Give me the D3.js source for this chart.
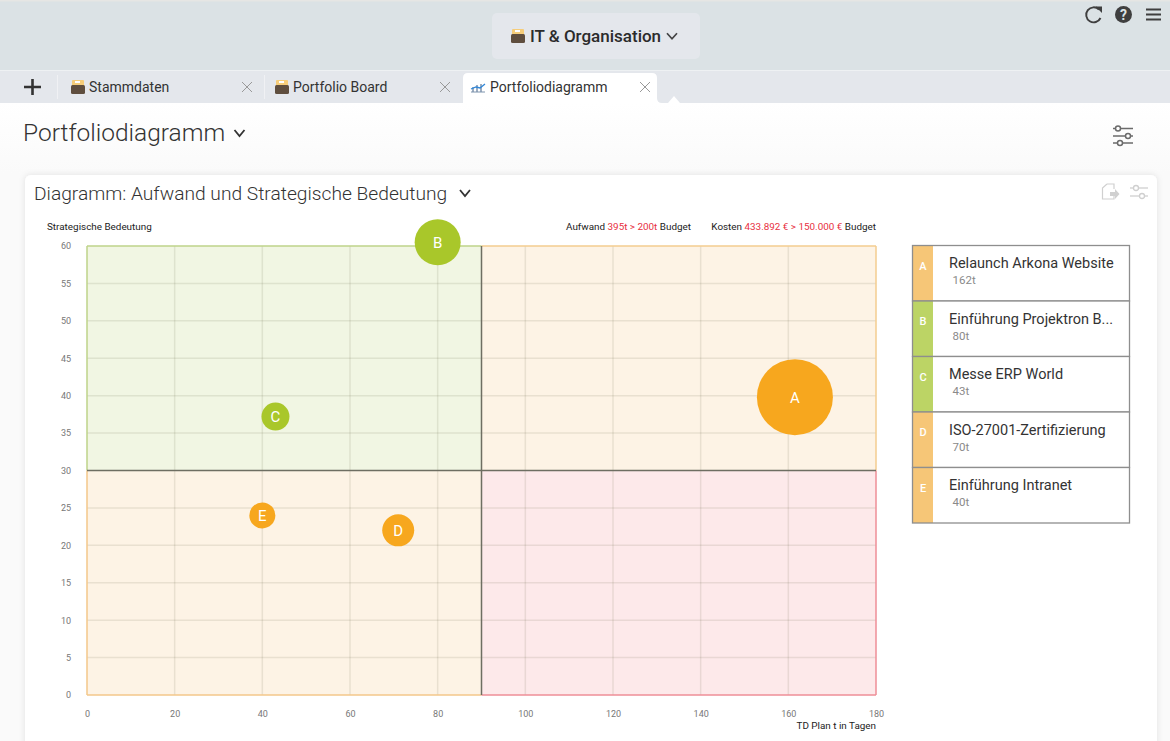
<!DOCTYPE html>
<html>
<head>
<meta charset="utf-8">
<script src="https://cdn.jsdelivr.net/npm/d3@7"></script>
<style>
  html, body { margin: 0; padding: 0; background: #fff; overflow: hidden; }
  svg { display: block; font-family: Roboto, sans-serif; }
</style>
</head>
<body>
<svg id="page" width="1170" height="741"></svg>
<script>
// chart data
const letters = ["A", "B", "C", "D", "E"];
const projects = ["Relaunch Arkona Website", "Einführung Projektron B...", "Messe ERP World", "ISO-27001-Zertifizierung", "Einführung Intranet"];
const effortDays = [161.5, 80, 43, 71, 40];
const effortLabels = ["162t", "80t", "43t", "70t", "40t"];
const importance = [39.8, 60.5, 37.2, 22, 24];
const bubbleSize = [38, 23, 14, 16, 13];
const bubbleColor = ["#f7a71e", "#a9c72a", "#a9c72a", "#f7a71e", "#f7a71e"];
const legendColor = ["#f6c677", "#bcd465", "#bcd465", "#f6c677", "#f6c677"];
const xTicks = [0, 20, 40, 60, 80, 100, 120, 140, 160, 180];
const yTicks = [0, 5, 10, 15, 20, 25, 30, 35, 40, 45, 50, 55, 60];
const tabs = ["Stammdaten", "Portfolio Board", "Portfoliodiagramm"];
const quadrants = [
  { x0: 0, x1: 90, y0: 30, y1: 60, fill: "#f1f6e3", edge: "#bfd48a" },
  { x0: 90, x1: 180, y0: 30, y1: 60, fill: "#fdf3e5", edge: "#f3cd90" },
  { x0: 0, x1: 90, y0: 0, y1: 30, fill: "#fdf3e5", edge: "#f3c88a" },
  { x0: 90, x1: 180, y0: 0, y1: 30, fill: "#fde9ea", edge: "#ee8f98" }
];

const svg = d3.select("#page");
const defs = svg.append("defs");
const shadow = defs.append("filter").attr("id", "soft")
  .attr("x", "-5%").attr("y", "-5%").attr("width", "110%").attr("height", "110%");
shadow.append("feDropShadow").attr("dx", 0).attr("dy", 0)
  .attr("stdDeviation", 3).attr("flood-color", "#000").attr("flood-opacity", 0.1);
const pageFade = defs.append("linearGradient").attr("id", "pagefade")
  .attr("x1", 0).attr("x2", 0).attr("y1", 0).attr("y2", 1);
pageFade.append("stop").attr("offset", "0%").attr("stop-color", "#fff");
pageFade.append("stop").attr("offset", "100%").attr("stop-color", "#fafafa");

function chevron(g, x, y, w, h, color, width) {
  g.append("path")
    .attr("d", `M${x - w / 2},${y - h / 2}L${x},${y + h / 2}L${x + w / 2},${y - h / 2}`)
    .attr("fill", "none").attr("stroke", color).attr("stroke-width", width);
}

function folder(g, x, y) {
  g.append("rect").attr("x", x + 1).attr("y", y).attr("width", 12).attr("height", 7)
    .attr("rx", 1).attr("fill", "#f6cd7a");
  g.append("rect").attr("x", x + 4).attr("y", y + 1).attr("width", 5).attr("height", 2).attr("fill", "#fff");
  g.append("rect").attr("x", x).attr("y", y + 5).attr("width", 14).attr("height", 9)
    .attr("rx", 1.5).attr("fill", "#5f4e3e");
}

function sliders(g, x, y, w, rows, color, width, r) {
  rows.forEach(row => {
    g.append("line").attr("x1", x).attr("x2", x + w).attr("y1", y + row.dy).attr("y2", y + row.dy)
      .attr("stroke", color).attr("stroke-width", width);
    g.append("circle").attr("cx", x + row.at).attr("cy", y + row.dy).attr("r", r)
      .attr("fill", "#fff").attr("stroke", color).attr("stroke-width", width);
  });
}

// header bar
const head = svg.append("g");
head.append("rect").attr("width", 1170).attr("height", 71).attr("fill", "#dbe2e5");
head.append("rect").attr("width", 1170).attr("height", 1.5).attr("fill", "#e6e6e4");
head.append("rect").attr("y", 70).attr("width", 1170).attr("height", 1).attr("fill", "#eef1f3");
head.append("rect").attr("x", 492).attr("y", 13).attr("width", 208).attr("height", 46).attr("rx", 5)
  .attr("fill", "#e4e7ec");
folder(head, 511, 29);
head.append("text").attr("x", 530).attr("y", 42).attr("font-size", 17).attr("font-weight", 500)
  .attr("fill", "#2b2b2b").text("IT & Organisation");
chevron(head, 672, 36, 10, 5.5, "#444", 1.7);

// header icons
head.append("path").attr("d", "M1100.5,18A7.5,7.5 0 1 1 1099,9.5")
  .attr("fill", "none").attr("stroke", "#3f3f3f").attr("stroke-width", 1.9);
head.append("path").attr("d", "M1095.5,6.500L1102,6.500L1102,13Z").attr("fill", "#3f3f3f");
head.append("circle").attr("cx", 1123.5).attr("cy", 14.5).attr("r", 8.5).attr("fill", "#3f3f3f");
head.append("text").attr("x", 1123.5).attr("y", 19.5).attr("text-anchor", "middle")
  .attr("font-size", 14).attr("font-weight", 700).attr("fill", "#dbe2e5").text("?");
head.selectAll("line.menu").data([9.5, 14.5, 19.5]).enter().append("line").attr("class", "menu")
  .attr("x1", 1146).attr("x2", 1161).attr("y1", d => d).attr("y2", d => d)
  .attr("stroke", "#3f3f3f").attr("stroke-width", 2);

// tab strip
const strip = svg.append("g");
strip.append("rect").attr("y", 71).attr("width", 1170).attr("height", 32).attr("fill", "#e4e7ec");
strip.append("path").attr("d", "M24,87H41M32.500,79V95").attr("stroke", "#333").attr("stroke-width", 2.6);
strip.selectAll("line.sep").data([57.5, 264.5]).enter().append("line").attr("class", "sep")
  .attr("x1", d => d).attr("x2", d => d).attr("y1", 75).attr("y2", 99).attr("stroke", "#f0f1f4");
strip.append("path")
  .attr("d", "M463,103V78Q463,73 468,73H652Q657,73 657,78V98Q657,103 662,103Z").attr("fill", "#fff");
strip.append("path").attr("d", "M668,103L674,96L680,103Z").attr("fill", "#fff");
folder(strip, 71, 80);
folder(strip, 275, 80);
const tabX = [89, 293, 490];
const closeX = [247, 445, 645];
tabs.forEach((t, i) => {
  strip.append("text").attr("x", tabX[i]).attr("y", 92).attr("font-size", 14).attr("fill", "#333").text(t);
  const cx = closeX[i];
  strip.append("path").attr("d", `M${cx - 5},${82}L${cx + 5},${92}M${cx + 5},${82}L${cx - 5},${92}`)
    .attr("stroke", "#999").attr("stroke-width", 1);
});
strip.append("path").attr("d", "M471,92H485").attr("stroke", "#7d93ad").attr("stroke-width", 1);
strip.append("path").attr("d", "M473,92V87M477,92V85M481,92V84").attr("stroke", "#7d93ad").attr("stroke-width", 1.5);
strip.append("path").attr("d", "M471,89L476,87L480,88L485,84").attr("fill", "none").attr("stroke", "#2f86d8").attr("stroke-width", 1.3);

// page heading
svg.append("rect").attr("y", 103).attr("width", 1170).attr("height", 70).attr("fill", "url(#pagefade)");
svg.append("rect").attr("y", 173).attr("width", 1170).attr("height", 568).attr("fill", "#fafafa");
svg.append("text").attr("x", 23).attr("y", 141).attr("font-size", 24.5).attr("font-weight", 300)
  .attr("fill", "#333").text("Portfoliodiagramm");
chevron(svg, 239.500, 133, 10, 6, "#333", 1.8);
sliders(svg.append("g"), 1113, 128, 20, [{ dy: 0.5, at: 5 }, { dy: 8, at: 15 }, { dy: 15, at: 7 }], "#6b6b6b", 1.5, 2.5);

// card
svg.append("rect").attr("x", 25).attr("y", 175).attr("width", 1132).attr("height", 580).attr("rx", 6)
  .attr("fill", "#fff").attr("filter", "url(#soft)");
svg.append("text").attr("x", 34).attr("y", 200).attr("font-size", 19.2).attr("font-weight", 300)
  .attr("fill", "#333").text("Diagramm: Aufwand und Strategische Bedeutung");
chevron(svg, 465, 193, 10, 6, "#333", 1.8);
svg.append("path").attr("d", "M1107,184H1114V189M1107,184L1102.500,188V199H1114V196")
  .attr("fill", "none").attr("stroke", "#d0d0d0").attr("stroke-width", 1.2);
svg.append("path").attr("d", "M1110,192H1115V189L1119.500,194L1115,199V196H1110Z").attr("fill", "#d0d0d0");
sliders(svg.append("g"), 1130, 184, 18, [{ dy: 4, at: 6 }, { dy: 12, at: 12 }], "#cfcfcf", 1.3, 2.5);

// plot
const x = d3.scaleLinear().domain([0, 180]).range([87, 876]);
const y = d3.scaleLinear().domain([0, 60]).range([695, 246]);
const plot = svg.append("g");

plot.selectAll("rect.quad").data(quadrants).enter().append("rect").attr("class", "quad")
  .attr("x", d => x(d.x0)).attr("y", d => y(d.y1))
  .attr("width", d => x(d.x1) - x(d.x0)).attr("height", d => y(d.y0) - y(d.y1))
  .attr("fill", d => d.fill);

const innerX = xTicks.filter(t => t > 0 && t < 180 && t !== 90);
const innerY = yTicks.filter(t => t > 0 && t < 60 && t !== 30);
plot.selectAll("line.vgrid").data(innerX).enter().append("line").attr("class", "vgrid")
  .attr("x1", d => x(d)).attr("x2", d => x(d)).attr("y1", y(60)).attr("y2", y(0))
  .attr("stroke", "#5a5a3c").attr("stroke-opacity", 0.12).attr("stroke-width", 1.5);
plot.selectAll("line.hgrid").data(innerY).enter().append("line").attr("class", "hgrid")
  .attr("x1", x(0)).attr("x2", x(180)).attr("y1", d => y(d)).attr("y2", d => y(d))
  .attr("stroke", "#5a5a3c").attr("stroke-opacity", 0.12).attr("stroke-width", 1.5);

// coloured outer edges
plot.selectAll("path.edge").data(quadrants).enter().append("path").attr("class", "edge")
  .attr("d", d => {
    const vx = d.x0 === 0 ? x(0) : x(180);
    const hy = d.y0 === 0 ? y(0) : y(60);
    return `M${vx},${y(d.y1)}V${y(d.y0)}M${x(90)},${hy}H${vx}`;
  })
  .attr("fill", "none").attr("stroke", d => d.edge).attr("stroke-width", 1.5);

// centre cross
plot.append("line").attr("x1", x(90)).attr("x2", x(90)).attr("y1", y(60)).attr("y2", y(0))
  .attr("stroke", "#6e6e62").attr("stroke-width", 1.5);
plot.append("line").attr("x1", x(0)).attr("x2", x(180)).attr("y1", y(30)).attr("y2", y(30))
  .attr("stroke", "#6e6e62").attr("stroke-width", 1.5);

// axes
const xAxis = d3.axisBottom(x).tickValues(xTicks).tickSize(0).tickPadding(16);
const yAxis = d3.axisLeft(y).tickValues(yTicks).tickSize(0).tickPadding(16);
[plot.append("g").attr("transform", `translate(0,${y(0)})`).call(xAxis),
 plot.append("g").attr("transform", `translate(${x(0)},0)`).call(yAxis)].forEach(a => {
  a.select(".domain").remove();
  a.selectAll("text").attr("font-family", "Roboto, sans-serif").attr("font-size", 9).attr("fill", "#777");
});

plot.append("text").attr("x", 47).attr("y", 230).attr("font-size", 9.9).attr("fill", "#222")
  .text("Strategische Bedeutung");
plot.append("text").attr("x", 876).attr("y", 729).attr("text-anchor", "end").attr("font-size", 9.9)
  .attr("fill", "#222").text("TD Plan t in Tagen");

// budget summary
const aufwand = plot.append("text").attr("x", 691).attr("y", 230).attr("text-anchor", "end")
  .attr("font-size", 9.9).attr("fill", "#222");
aufwand.append("tspan").text("Aufwand ");
aufwand.append("tspan").attr("fill", "#e8303f").text("395t > 200t");
aufwand.append("tspan").text(" Budget");
const kosten = plot.append("text").attr("x", 876).attr("y", 230).attr("text-anchor", "end")
  .attr("font-size", 9.9).attr("fill", "#222");
kosten.append("tspan").text("Kosten ");
kosten.append("tspan").attr("fill", "#e8303f").text("433.892 € > 150.000 €");
kosten.append("tspan").text(" Budget");

// bubbles
const bubbles = plot.selectAll("g.bubble").data(letters).enter().append("g").attr("class", "bubble")
  .attr("transform", (d, i) => `translate(${x(effortDays[i])},${y(importance[i])})`);
bubbles.append("circle").attr("r", (d, i) => bubbleSize[i]).attr("fill", (d, i) => bubbleColor[i]);
bubbles.append("text").attr("text-anchor", "middle").attr("dy", "0.36em")
  .attr("font-size", 15).attr("fill", "#fff").text(d => d);

// legend list
const rowY = d3.scaleBand().domain(letters).range([245.500, 523]);
const rows = svg.append("g").selectAll("g").data(letters).enter().append("g")
  .attr("transform", d => `translate(912.500,${rowY(d)})`);
rows.append("rect").attr("width", 217).attr("height", rowY.bandwidth()).attr("fill", "#fff");
rows.append("rect").attr("width", 20.500).attr("height", rowY.bandwidth()).attr("fill", (d, i) => legendColor[i]);
rows.append("text").attr("x", 10.500).attr("y", 24).attr("text-anchor", "middle").attr("font-size", 11)
  .attr("font-weight", 500).attr("fill", "#fff").text(d => d);
rows.append("text").attr("x", 36.500).attr("y", 22.5).attr("font-size", 14.500).attr("fill", "#333")
  .text((d, i) => projects[i]);
rows.append("text").attr("x", 40).attr("y", 38.5).attr("font-size", 11.500).attr("fill", "#8a8a8a")
  .text((d, i) => effortLabels[i]);
rows.append("rect").attr("width", 217).attr("height", rowY.bandwidth()).attr("fill", "none")
  .attr("stroke", "#8e8e8e").attr("stroke-width", 1.3);
</script>
</body>
</html>
